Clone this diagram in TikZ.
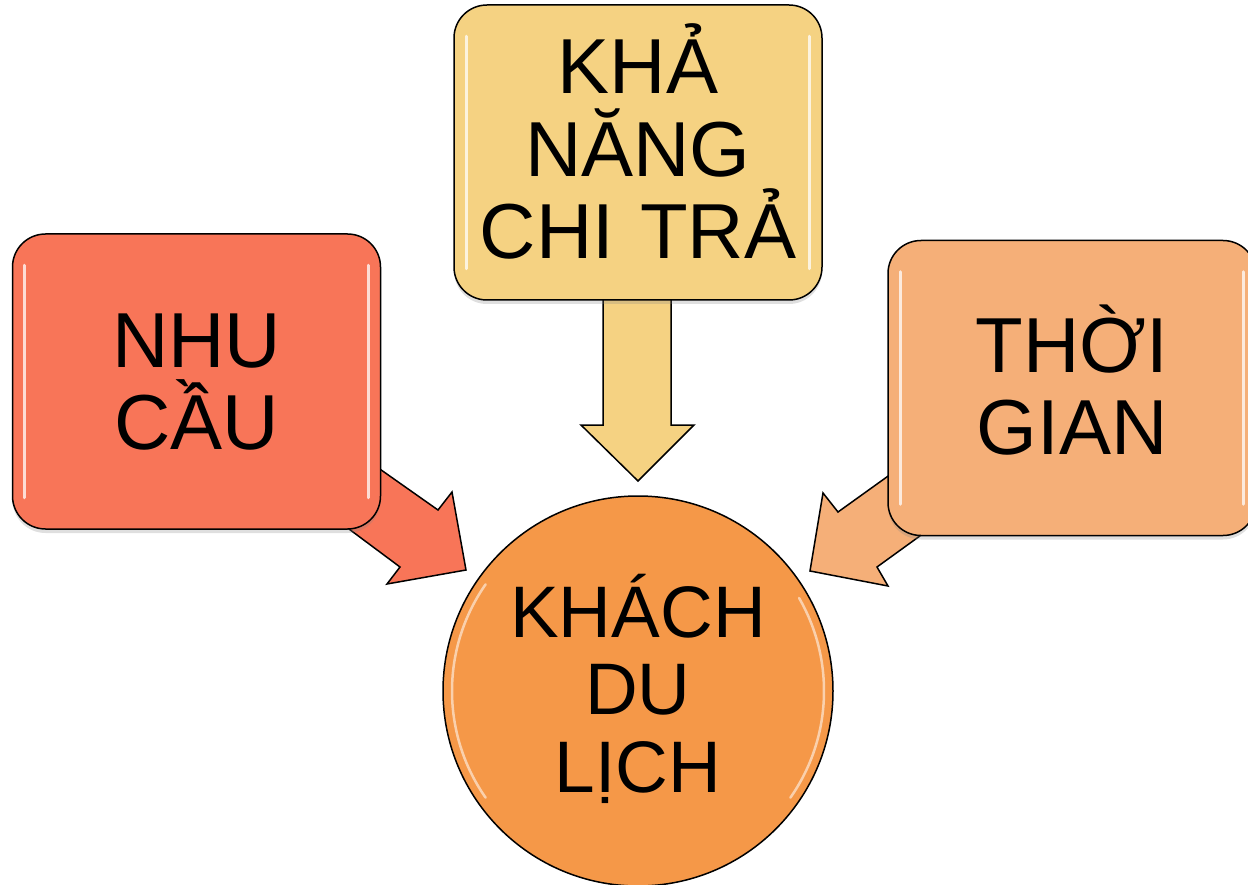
\documentclass[tikz,border=0pt]{standalone}
\usepackage{fontspec}
\setmainfont{Liberation Sans}
\usetikzlibrary{shadows}
\definecolor{cnhu}{HTML}{F87558}
\definecolor{ckha}{HTML}{F5D282}
\definecolor{cthoi}{HTML}{F5AF78}
\definecolor{ckhach}{HTML}{F59848}
\tikzset{
  boxnode/.style={draw=black, line width=1.5pt, rounded corners=33pt,
    minimum width=368pt, minimum height=295pt, inner sep=0pt,
    text width=340pt, align=center, text height=56pt,
    font=\fontsize{78}{82.5}\selectfont,
    drop shadow={opacity=0.25, shadow xshift=0pt, shadow yshift=-4pt}},
  blockarrow/.style={draw=black, line width=1.5pt, line join=miter},
  hl/.style={white, line width=3pt, opacity=0.75, line cap=round},
}
\begin{document}
\begin{tikzpicture}[x=1pt,y=-1pt]
\useasboundingbox (0,0) rectangle (1248,885);
% block arrows (under the boxes)
\path[blockarrow, fill=cnhu] (340,441) -- (438,510) -- (452,492) -- (466,570)
  -- (387,584) -- (400,567) -- (310,500) -- cycle;
\path[blockarrow, fill=ckha] (603,290) -- (603,425) -- (581,425) -- (638,481)
  -- (694,425) -- (671,425) -- (671,290) -- cycle;
\path[blockarrow, fill=cthoi] (930,446) -- (838,512) -- (823,493) -- (810,571)
  -- (888,586) -- (877,567) -- (960,507) -- cycle;
% boxes
\node[boxnode, fill=cnhu, text depth=85pt] (nhu) at (196.5,381.5) {NHU\\CẦU};
\node[boxnode, fill=ckha, text depth=173pt] (kha) at (638,152.5) {KHẢ\\NĂNG\\CHI TRẢ};
\node[boxnode, fill=cthoi, text depth=88pt] (thoi) at (1072,388) {THỜI\\GIAN};
% gloss highlights
\foreach \b in {nhu,kha,thoi}{
  \draw[hl] ([xshift=13pt,yshift=-32pt]\b.north west) -- ([xshift=13pt,yshift=32pt]\b.south west);
  \draw[hl] ([xshift=-13pt,yshift=-32pt]\b.north east) -- ([xshift=-13pt,yshift=32pt]\b.south east);
}
% circle
\node[circle, draw=black, line width=1.5pt, fill=ckhach, minimum size=390pt,
  inner sep=0pt, text width=270pt, align=center, text height=52pt, text depth=160pt,
  font=\fontsize{73}{77.5}\selectfont] (khach) at (638,691) {KHÁCH\\DU\\LỊCH};
\draw[hl, opacity=0.55, line width=2.5pt] ([shift={(145:186pt)}]khach.center) arc[start angle=145, end angle=215, radius=186pt];
\draw[hl, opacity=0.55, line width=2.5pt] ([shift={(-35:186pt)}]khach.center) arc[start angle=-35, end angle=30, radius=186pt];
\end{tikzpicture}
\end{document}
